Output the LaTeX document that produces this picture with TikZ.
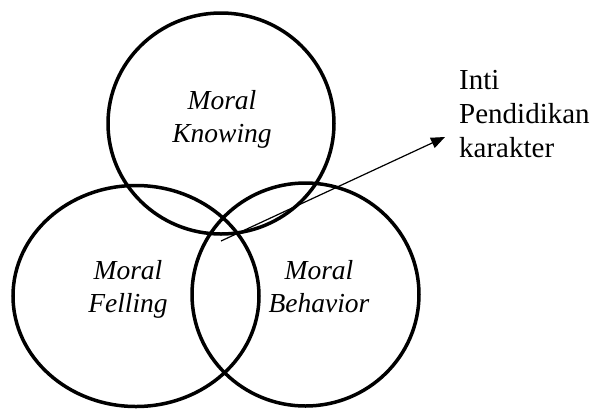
\documentclass[tikz,border=0pt]{standalone}
\usepackage{fontspec}
\setmainfont{Liberation Serif}
\usepackage{xcolor}
\usetikzlibrary{arrows.meta}
\usetikzlibrary{math, calc}

\tikzset{
 ring/.style={line width=3.5pt, color=black},
 pointer/.style={line width=1.2pt, -{Triangle[length=14pt,width=11pt]}},
 ital/.style={inner sep=0pt, align=center, font=\fontsize{27.5}{33}\selectfont\itshape},
 note/.style={inner sep=0pt, align=left, font=\fontsize{29}{34}\selectfont}
}

\begin{document}
\begin{tikzpicture}[x=1pt, y=-1pt]
\tikzmath{
\rk=113; \rf=123; \rb=113.5;
}

\useasboundingbox (0,0) rectangle (597,408);

 \coordinate (CK) at (221,123.5); %knowing
 \coordinate (CF) at (136,296);   %felling
 \coordinate (CB) at (305.5,294.5); %behavior

 %circles
 \draw[ring] (CK) ellipse [x radius=\rk, y radius=110.5];
 \draw[ring] (CF) ellipse [x radius=\rf, y radius=110.5];
 \draw[ring] (CB) ellipse [x radius=\rb, y radius=111.5];

 %labels
 \node[ital] (knowing) at (222,119) {Moral\\Knowing};
 \node[ital] (felling) at (128,289.5) {Moral\\Felling};
 \node[ital] (behavior) at (319,286.5) {Moral\\Behavior};

 \node[note, anchor=west] (inti) at (459,114) {Inti\\Pendidikan\\karakter};

 %arrow
 \coordinate (core) at (221,241);
 \coordinate (tip) at ($(inti.west)+(-14,23)$);
 \draw[pointer] (core) -- (tip);

\end{tikzpicture}
\end{document}
